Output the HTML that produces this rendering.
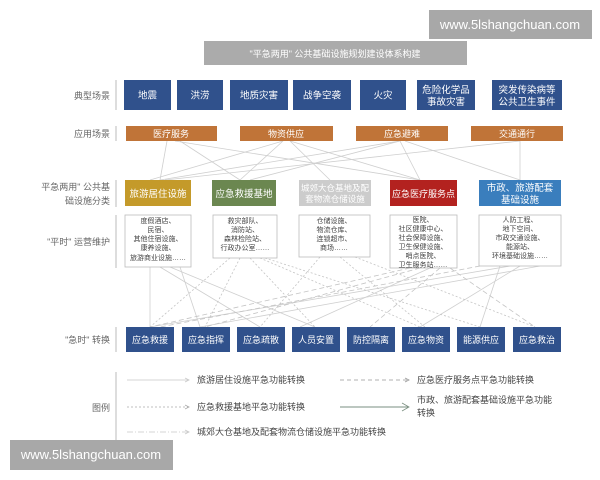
<!DOCTYPE html>
<html><head><meta charset="utf-8"><style>
html,body{margin:0;padding:0;background:#fff;}
body{width:600px;height:480px;overflow:hidden;position:relative;font-family:"Liberation Sans","Noto Sans CJK SC",sans-serif;}
svg{position:absolute;left:0;top:0;}
</style></head><body>
<svg width="600" height="480" viewBox="0 0 600 480" xmlns="http://www.w3.org/2000/svg" font-family="Liberation Sans, Noto Sans CJK SC, sans-serif">
<!-- watermarks -->
<rect x="429" y="10" width="163" height="29" fill="#a8a8a8"/>
<text x="510" y="29" font-size="13" fill="#fff" text-anchor="middle">www.5lshangchuan.com</text>
<!-- title -->
<rect x="204" y="41" width="263" height="24" fill="#ababab"/>
<text x="335" y="57" font-size="9" fill="#fff" text-anchor="middle">"平急两用" 公共基础设施规划建设体系构建</text>

<!-- left labels -->
<g font-size="9" fill="#666" text-anchor="end">
<text x="110" y="99">典型场景</text>
<text x="110" y="137">应用场景</text>
<text x="110" y="190">平急两用" 公共基</text>
<text x="110" y="204">础设施分类</text>
<text x="110" y="245">"平时" 运营维护</text>
<text x="110" y="343">"急时" 转换</text>
<text x="110" y="411">图例</text>
</g>
<g stroke="#bbb" stroke-width="1">
<line x1="116" y1="80" x2="116" y2="110"/>
<line x1="116" y1="126" x2="116" y2="141"/>
<line x1="116" y1="180" x2="116" y2="207"/>
<line x1="116" y1="215" x2="116" y2="268"/>
<line x1="116" y1="327" x2="116" y2="352"/>
<line x1="116" y1="372" x2="116" y2="440"/>
</g>

<!-- connectors row2->row3 -->
<g stroke="#cfcfcf" stroke-width="0.8" fill="none">
<line x1="167" y1="141" x2="160" y2="180"/>
<line x1="180" y1="141" x2="240" y2="180"/>
<line x1="175" y1="141" x2="420" y2="180"/>
<line x1="283" y1="141" x2="150" y2="180"/>
<line x1="283" y1="141" x2="240" y2="180"/>
<line x1="290" y1="141" x2="330" y2="180"/>
<line x1="290" y1="141" x2="420" y2="180"/>
<line x1="400" y1="141" x2="160" y2="180"/>
<line x1="400" y1="141" x2="250" y2="180"/>
<line x1="400" y1="141" x2="420" y2="180"/>
<line x1="405" y1="141" x2="520" y2="180"/>
<line x1="520" y1="141" x2="165" y2="180"/>
<line x1="520" y1="141" x2="520" y2="180"/>
</g>

<!-- connectors row4->row5 -->
<g stroke="#cfcfcf" stroke-width="0.8" fill="none">
<line x1="150" y1="267" x2="150" y2="327"/>
<line x1="160" y1="267" x2="260" y2="327"/>
<line x1="170" y1="267" x2="315" y2="327"/>
<line x1="180" y1="267" x2="200" y2="327"/>
<line x1="430" y1="268" x2="300" y2="327"/>
<line x1="500" y1="266" x2="480" y2="327"/>
<line x1="520" y1="266" x2="420" y2="327"/>
<line x1="540" y1="266" x2="200" y2="327"/>
<line x1="510" y1="266" x2="150" y2="327"/>
</g>
<g stroke="#c4c4c4" stroke-width="0.8" fill="none" stroke-dasharray="2,2">
<line x1="230" y1="258" x2="150" y2="327"/>
<line x1="240" y1="258" x2="205" y2="327"/>
<line x1="250" y1="258" x2="315" y2="327"/>
<line x1="260" y1="258" x2="420" y2="327"/>
<line x1="265" y1="258" x2="480" y2="327"/>
<line x1="320" y1="257" x2="260" y2="327"/>
<line x1="340" y1="257" x2="425" y2="327"/>
<line x1="355" y1="257" x2="535" y2="327"/>
</g>
<g stroke="#c4c4c4" stroke-width="0.8" fill="none" stroke-dasharray="5,3">
<line x1="410" y1="268" x2="150" y2="327"/>
<line x1="420" y1="268" x2="205" y2="327"/>
<line x1="440" y1="268" x2="370" y2="327"/>
<line x1="450" y1="268" x2="535" y2="327"/>
<line x1="480" y1="266" x2="160" y2="327"/>
</g>

<!-- row1 -->
<g fill="#30518c">
<rect x="124" y="80" width="47" height="30"/>
<rect x="177" y="80" width="46" height="30"/>
<rect x="230" y="80" width="58" height="30"/>
<rect x="293" y="80" width="58" height="30"/>
<rect x="360" y="80" width="46" height="30"/>
<rect x="417" y="80" width="58" height="30"/>
<rect x="492" y="80" width="70" height="30"/>
</g>
<g font-size="9.5" fill="#fff" text-anchor="middle">
<text x="147.5" y="98.5">地震</text>
<text x="200" y="98.5">洪涝</text>
<text x="259" y="98.5">地质灾害</text>
<text x="322" y="98.5">战争空袭</text>
<text x="383" y="98.5">火灾</text>
<text x="446" y="93">危险化学品</text>
<text x="446" y="105">事故灾害</text>
<text x="527" y="93">突发传染病等</text>
<text x="527" y="105">公共卫生事件</text>
</g>

<!-- row2 -->
<g fill="#c07438">
<rect x="126" y="126" width="91" height="15"/>
<rect x="240" y="126" width="93" height="15"/>
<rect x="356" y="126" width="92" height="15"/>
<rect x="471" y="126" width="92" height="15"/>
</g>
<g font-size="9" fill="#fff" text-anchor="middle">
<text x="171" y="137">医疗服务</text>
<text x="286" y="137">物资供应</text>
<text x="402" y="137">应急避难</text>
<text x="517" y="137">交通通行</text>
</g>

<!-- row3 -->
<rect x="125" y="180" width="66" height="26" fill="#c49a2a"/>
<rect x="212" y="180" width="64" height="26" fill="#6b8750"/>
<rect x="299" y="180" width="72" height="26" fill="#cccccc"/>
<rect x="390" y="180" width="67" height="26" fill="#b3221f"/>
<rect x="479" y="180" width="82" height="26" fill="#3a7ebd"/>
<g font-size="9.5" fill="#fff" text-anchor="middle">
<text x="158" y="197">旅游居住设施</text>
<text x="244" y="197">应急救援基地</text>
<text x="335" y="191" font-size="8.5">城郊大仓基地及配</text>
<text x="335" y="202" font-size="8.5">套物流仓储设施</text>
<text x="423.5" y="197" font-size="9">应急医疗服务点</text>
<text x="520" y="191">市政、旅游配套</text>
<text x="520" y="203">基础设施</text>
</g>

<!-- row4 -->
<g fill="#fff" stroke="#bbb" stroke-width="0.8">
<rect x="125" y="215" width="66" height="52"/>
<rect x="213" y="215" width="64" height="43"/>
<rect x="299" y="215" width="71" height="42"/>
<rect x="390" y="215" width="67" height="53"/>
<rect x="479" y="215" width="82" height="51"/>
</g>
<g font-size="7" fill="#444" text-anchor="middle">
<text x="158" y="223">度假酒店、</text>
<text x="158" y="232">民宿、</text>
<text x="158" y="241">其他住宿设施、</text>
<text x="158" y="250">康养设施、</text>
<text x="158" y="260">旅游商业设施……</text>
<text x="245" y="223">救灾部队、</text>
<text x="245" y="232">消防站、</text>
<text x="245" y="241">森林检险站、</text>
<text x="245" y="250">行政办公室……</text>
<text x="334" y="223">仓储设施、</text>
<text x="334" y="232">物流仓库、</text>
<text x="334" y="241">连锁超市、</text>
<text x="334" y="250">商场……</text>
<text x="423" y="222">医院、</text>
<text x="423" y="231">社区健康中心、</text>
<text x="423" y="240">社会保障设施、</text>
<text x="423" y="249">卫生保健设施、</text>
<text x="423" y="258">哨点医院、</text>
<text x="423" y="267">卫生服务站……</text>
<text x="520" y="222">人防工程、</text>
<text x="520" y="231">地下空间、</text>
<text x="520" y="240">市政交通设施、</text>
<text x="520" y="249">能源站、</text>
<text x="520" y="258">环境基础设施……</text>
</g>

<!-- row5 -->
<g fill="#30518c">
<rect x="126" y="327" width="48" height="25"/>
<rect x="182" y="327" width="48" height="25"/>
<rect x="237" y="327" width="48" height="25"/>
<rect x="292" y="327" width="48" height="25"/>
<rect x="347" y="327" width="48" height="25"/>
<rect x="402" y="327" width="48" height="25"/>
<rect x="457" y="327" width="48" height="25"/>
<rect x="513" y="327" width="48" height="25"/>
</g>
<g font-size="9" fill="#fff" text-anchor="middle">
<text x="150" y="343">应急救援</text>
<text x="206" y="343">应急指挥</text>
<text x="261" y="343">应急疏散</text>
<text x="316" y="343">人员安置</text>
<text x="371" y="343">防控隔离</text>
<text x="426" y="343">应急物资</text>
<text x="481" y="343">能源供应</text>
<text x="537" y="343">应急救治</text>
</g>

<!-- legend -->
<g fill="none" stroke-width="0.8">
<line x1="127" y1="380" x2="188" y2="380" stroke="#c8c8c8"/>
<path d="M185 378 L189 380 L185 382" stroke="#c8c8c8"/>
<line x1="340" y1="380" x2="408" y2="380" stroke="#999" stroke-dasharray="4,3"/>
<path d="M405 378 L409 380 L405 382" stroke="#999"/>
<line x1="127" y1="407" x2="188" y2="407" stroke="#aaa" stroke-dasharray="2,2"/>
<path d="M185 405 L189 407 L185 409" stroke="#aaa"/>
<line x1="340" y1="407" x2="408" y2="407" stroke="#7a8f80" stroke-width="1"/>
<path d="M402 403 L409 407 L402 411" stroke="#7a8f80"/>
<line x1="127" y1="432" x2="188" y2="432" stroke="#c8c8c8" stroke-dasharray="6,2,1,2"/>
<path d="M185 430 L189 432 L185 434" stroke="#c8c8c8"/>
</g>
<g font-size="9" fill="#444">
<text x="197" y="383">旅游居住设施平急功能转换</text>
<text x="417" y="383">应急医疗服务点平急功能转换</text>
<text x="197" y="410">应急救援基地平急功能转换</text>
<text x="417" y="403">市政、旅游配套基础设施平急功能</text>
<text x="417" y="416">转换</text>
<text x="197" y="435">城郊大仓基地及配套物流仓储设施平急功能转换</text>
</g>

<rect x="10" y="440" width="163" height="30" fill="#a8a8a8"/>
<text x="91" y="459" font-size="13" fill="#fff" text-anchor="middle">www.5lshangchuan.com</text>
</svg>
</body></html>
